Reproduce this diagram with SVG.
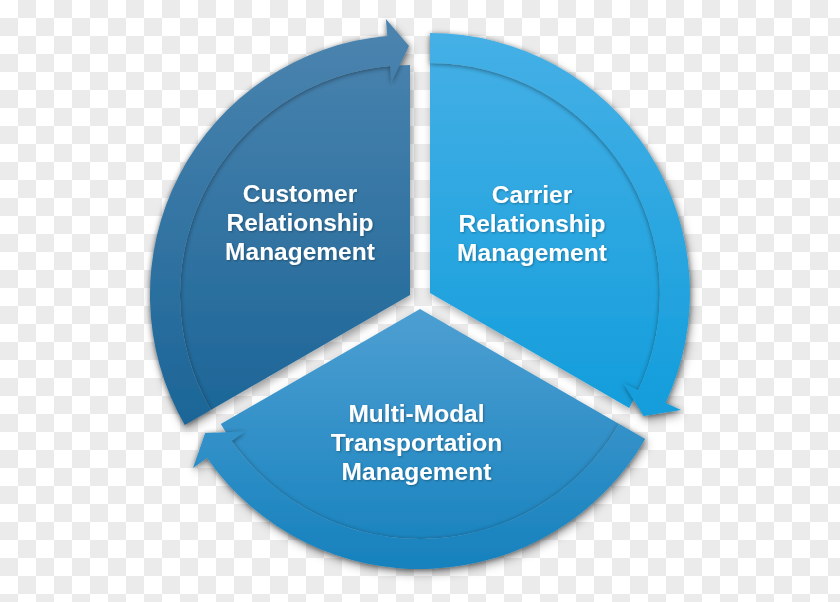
<svg xmlns="http://www.w3.org/2000/svg" width="840" height="602" viewBox="0 0 840 602">
<defs>
<pattern id="checker" width="36" height="36" patternUnits="userSpaceOnUse">
<rect width="36" height="36" fill="#ffffff"/>
<rect x="18" y="0" width="18" height="18" fill="#ebebeb"/>
<rect x="0" y="18" width="18" height="18" fill="#ebebeb"/>
</pattern>
<linearGradient id="gLeft" gradientUnits="userSpaceOnUse" x1="0" y1="35" x2="0" y2="425">
<stop offset="0" stop-color="#4a83ae"/>
<stop offset="1" stop-color="#1b6597"/>
</linearGradient>
<linearGradient id="gRight" gradientUnits="userSpaceOnUse" x1="0" y1="33" x2="0" y2="420">
<stop offset="0" stop-color="#45b0e6"/>
<stop offset="1" stop-color="#129ddb"/>
</linearGradient>
<linearGradient id="gBottom" gradientUnits="userSpaceOnUse" x1="0" y1="309" x2="0" y2="570">
<stop offset="0" stop-color="#4d9fd2"/>
<stop offset="1" stop-color="#1681bd"/>
</linearGradient>
<filter id="drop" x="-20%" y="-20%" width="140%" height="140%">
<feDropShadow dx="2" dy="4" stdDeviation="4" flood-color="#000" flood-opacity="0.35"/>
</filter>
<filter id="bandShadow" x="-20%" y="-20%" width="140%" height="140%">
<feDropShadow dx="0" dy="1" stdDeviation="2.5" flood-color="#000" flood-opacity="0.45"/>
</filter>
<filter id="txt" x="-10%" y="-10%" width="120%" height="130%">
<feDropShadow dx="1" dy="1" stdDeviation="1" flood-color="#000" flood-opacity="0.3"/>
</filter>
</defs>
<style>
.label{font-family:"Liberation Sans",Arial,sans-serif;font-weight:bold;font-size:24.5px;fill:#ffffff;text-anchor:middle}
</style>
<rect width="840" height="602" fill="url(#checker)"/>

<g id="customer" filter="url(#drop)">
<path d="M410,295 L210.8,410 A230,230 0 0 1 410,65 Z" fill="url(#gLeft)"/>
<path d="M184.8,425 A260,260 0 0 1 387.3,36 L385.9,19 L409,46 L391.3,82.5 L390,65.9 A230,230 0 0 0 210.8,410 Z" fill="url(#gLeft)" filter="url(#bandShadow)"/>
<text class="label" filter="url(#txt)"><tspan x="300" y="202">Customer</tspan><tspan x="300" y="231">Relationship</tspan><tspan x="300" y="260">Management</tspan></text>
</g>

<g id="carrier" filter="url(#drop)">
<path d="M430,293 L430,63 A230,230 0 0 1 629.2,408 Z" fill="url(#gRight)"/>
<path d="M430,33 A260,260 0 0 1 665.6,402.9 L681,410 L643.5,416 L623.2,383 L638.4,390.2 A230,230 0 0 0 430,63 Z" fill="url(#gRight)" filter="url(#bandShadow)"/>
<text class="label" filter="url(#txt)"><tspan x="532" y="203">Carrier</tspan><tspan x="532" y="232">Relationship</tspan><tspan x="532" y="261">Management</tspan></text>
</g>

<g id="transport" filter="url(#drop)">
<path d="M420,309 L619.2,424 A230,230 0 0 1 220.8,424 Z" fill="url(#gBottom)"/>
<path d="M645.2,439 A260,260 0 0 1 207,458.1 L193,468 L205.2,433 L245,431.5 L231.6,440.9 A230,230 0 0 0 619.2,424 Z" fill="url(#gBottom)" filter="url(#bandShadow)"/>
<text class="label" filter="url(#txt)"><tspan x="416.5" y="422">Multi-Modal</tspan><tspan x="416.5" y="451">Transportation</tspan><tspan x="416.5" y="480">Management</tspan></text>
</g>

<g id="connectors"></g>
</svg>
